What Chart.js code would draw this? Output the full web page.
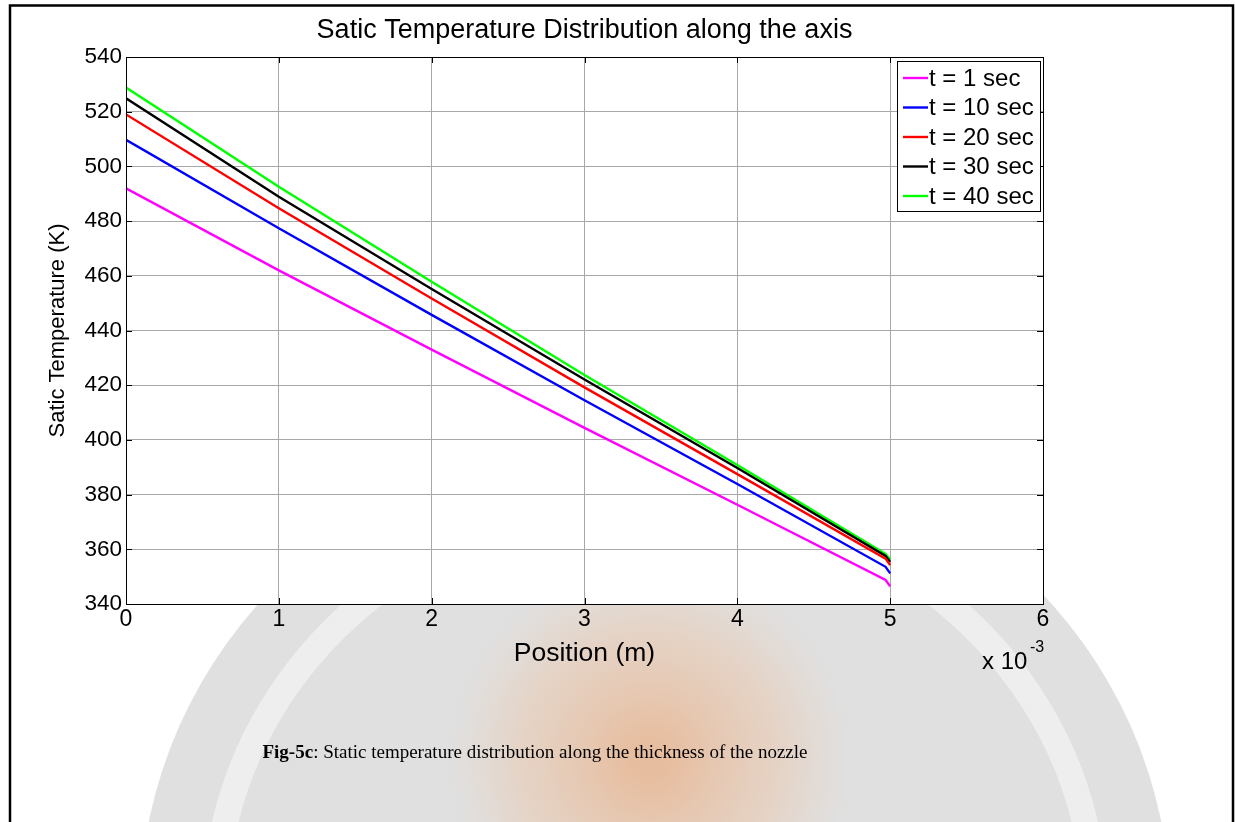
<!DOCTYPE html>
<html><head><meta charset="utf-8">
<script src="https://cdn.jsdelivr.net/npm/chart.js@4"></script>
<style>html,body{margin:0;padding:0;background:#fff;overflow:hidden}canvas{display:block}</style>
</head><body>
<canvas id="c" width="1235" height="822"></canvas>
<script>
// ---- data (position in units of 10^-3 m) ----
const positions = [0, 1, 2, 3, 4, 4.97, 5];
const seriesLabels = ['t = 1 sec', 't = 10 sec', 't = 20 sec', 't = 30 sec', 't = 40 sec'];
const temp_t1  = [492.0, 462.0, 433.0, 404.4, 376.3, 348.8, 346.5];
const temp_t10 = [509.7, 477.4, 445.7, 414.5, 383.9, 353.6, 351.2];
const temp_t20 = [519.0, 484.7, 451.7, 419.2, 387.5, 356.6, 354.2];
const temp_t30 = [524.9, 488.9, 455.2, 422.1, 389.7, 357.6, 355.4];
const temp_t40 = [528.8, 492.6, 457.8, 423.7, 390.8, 358.3, 356.3];
const seriesColors = ['#ff00ff', '#0000ff', '#ff0000', '#000000', '#00ff00'];
const xTicks = [0, 1, 2, 3, 4, 5, 6];
const yTicks = [340, 360, 380, 400, 420, 440, 460, 480, 500, 520, 540];
const chartTitle = 'Satic Temperature Distribution along the axis';
const xTitle = 'Position (m)';
const yTitle = 'Satic Temperature (K)';
const captionBold = 'Fig-5c';
const captionRest = ': Static temperature distribution along the thickness of the nozzle';

const allSeries = [temp_t1, temp_t10, temp_t20, temp_t30, temp_t40];
const datasets = allSeries.map((vals, i) => ({
  label: seriesLabels[i],
  data: positions.map((x, k) => ({x: x, y: vals[k]})),
  borderColor: seriesColors[i],
  backgroundColor: seriesColors[i],
  borderWidth: 2.4,
  pointRadius: 0,
  tension: 0,
  fill: false
}));

const SANS = 'Arial, "Liberation Sans", sans-serif';
const SERIF = '"Times New Roman", "Liberation Serif", serif';

const pagePlugin = {
  id: 'page',
  beforeDraw(chart) {
    const ctx = chart.ctx;
    const ca = chart.chartArea;
    ctx.save();
    ctx.fillStyle = '#ffffff';
    ctx.fillRect(0, 0, chart.width, chart.height);
    // faint watermark logo behind the lower part of the page
    ctx.beginPath();
    ctx.ellipse(655, 910, 515, 480, 0, 0, Math.PI * 2);
    ctx.fillStyle = '#e0e0e0';
    ctx.fill();
    ctx.lineWidth = 26;
    ctx.strokeStyle = 'rgba(255,255,255,0.45)';
    ctx.beginPath();
    ctx.ellipse(655, 910, 440, 410, 0, Math.PI * 1.0, Math.PI * 1.4);
    ctx.stroke();
    ctx.beginPath();
    ctx.ellipse(655, 910, 440, 410, 0, Math.PI * 1.65, Math.PI * 1.98);
    ctx.stroke();
    const g = ctx.createRadialGradient(650, 760, 20, 650, 760, 200);
    g.addColorStop(0, 'rgba(238,155,95,0.5)');
    g.addColorStop(0.6, 'rgba(240,180,135,0.3)');
    g.addColorStop(1, 'rgba(240,190,150,0)');
    ctx.fillStyle = g;
    ctx.fillRect(420, 540, 470, 300);
    // white plot area
    ctx.fillStyle = '#ffffff';
    ctx.fillRect(ca.left, ca.top, ca.right - ca.left, ca.bottom - ca.top);
    ctx.fillRect(12, 7, 1220, ca.top - 7);
    ctx.restore();
  },
  afterDraw(chart) {
    const ctx = chart.ctx;
    const ca = chart.chartArea;
    const xs = chart.scales.x, ys = chart.scales.y;
    ctx.save();
    // axes frame
    ctx.strokeStyle = '#000';
    ctx.lineWidth = 1;
    ctx.strokeRect(ca.left + 0.5, ca.top + 0.5, ca.right - ca.left, ca.bottom - ca.top);
    // inward ticks on all four sides
    const tl = 6;
    ctx.beginPath();
    xTicks.forEach(v => {
      const px = Math.round(xs.getPixelForValue(v)) + 0.5;
      ctx.moveTo(px, ca.bottom); ctx.lineTo(px, ca.bottom - tl);
      ctx.moveTo(px, ca.top); ctx.lineTo(px, ca.top + tl);
    });
    yTicks.forEach(v => {
      const py = Math.round(ys.getPixelForValue(v)) + 0.5;
      ctx.moveTo(ca.left, py); ctx.lineTo(ca.left + tl, py);
      ctx.moveTo(ca.right, py); ctx.lineTo(ca.right - tl, py);
    });
    ctx.stroke();

    // legend box
    const lx = 897, ly = 61, lw = 143, lh = 150;
    ctx.fillStyle = '#fff';
    ctx.fillRect(lx, ly, lw, lh);
    ctx.strokeStyle = '#000';
    ctx.strokeRect(lx + 0.5, ly + 0.5, lw, lh);
    ctx.font = '24px ' + SANS;
    ctx.textBaseline = 'middle';
    ctx.textAlign = 'left';
    chart.data.datasets.forEach((ds, i) => {
      const y = 78 + i * 29.5;
      ctx.strokeStyle = ds.borderColor;
      ctx.lineWidth = 2.4;
      ctx.beginPath(); ctx.moveTo(903, y); ctx.lineTo(928, y); ctx.stroke();
      ctx.fillStyle = '#000';
      ctx.fillText(ds.label, 929, y + 1);
    });

    // exponent label
    ctx.fillStyle = '#000';
    ctx.textBaseline = 'alphabetic';
    ctx.font = '24px ' + SANS;
    ctx.fillText('x 10', 982, 669);
    ctx.font = '16px ' + SANS;
    ctx.fillText('-3', 1030, 652);

    // caption
    ctx.font = 'bold 19px ' + SERIF;
    const bw = ctx.measureText(captionBold).width;
    ctx.font = '19px ' + SERIF;
    const rw = ctx.measureText(captionRest).width;
    const cx0 = 535 - (bw + rw) / 2;
    ctx.font = 'bold 19px ' + SERIF;
    ctx.fillText(captionBold, cx0, 758);
    ctx.font = '19px ' + SERIF;
    ctx.fillText(captionRest, cx0 + bw, 758);

    // page border
    ctx.strokeStyle = '#000';
    ctx.lineWidth = 2.5;
    ctx.strokeRect(10, 5.5, 1223, 900);
    ctx.restore();
  }
};

new Chart(document.getElementById('c'), {
  type: 'line',
  data: { datasets },
  options: {
    responsive: false,
    animation: false,
    events: [],
    layout: { padding: { left: 0, right: 192, top: 0, bottom: 150 } },
    plugins: {
      legend: { display: false },
      tooltip: { enabled: false },
      title: {
        display: true, text: chartTitle, fullSize: false, color: '#000',
        font: { family: SANS, size: 27, weight: 'normal' },
        padding: { top: 14.8, bottom: 9.8 }
      }
    },
    scales: {
      x: {
        type: 'linear', min: 0, max: 6,
        afterFit(s) { s.height = 68; },
        afterBuildTicks(s) { s.ticks = xTicks.map(v => ({value: v})); },
        ticks: { color: '#000', padding: 2, font: { family: SANS, size: 23 }, callback: v => String(v) },
        grid: { color: '#a8a8a8', lineWidth: 1, drawTicks: false },
        border: { display: true, color: '#000', width: 1 },
        title: { display: true, text: xTitle, color: '#000', font: { family: SANS, size: 26.5 }, padding: { top: 0, bottom: 2.1 } }
      },
      y: {
        type: 'linear', min: 340, max: 540,
        afterFit(s) { s.width = 126; },
        afterBuildTicks(s) { s.ticks = yTicks.map(v => ({value: v})); },
        ticks: { color: '#000', padding: 4, font: { family: SANS, size: 22.5 }, callback: v => String(v) },
        grid: { color: '#a8a8a8', lineWidth: 1, drawTicks: false },
        border: { display: true, color: '#000', width: 1 },
        title: { display: true, text: yTitle, color: '#000', font: { family: SANS, size: 22 }, padding: { top: 45, bottom: 0 } }
      }
    }
  },
  plugins: [pagePlugin]
});
</script>
</body></html>
